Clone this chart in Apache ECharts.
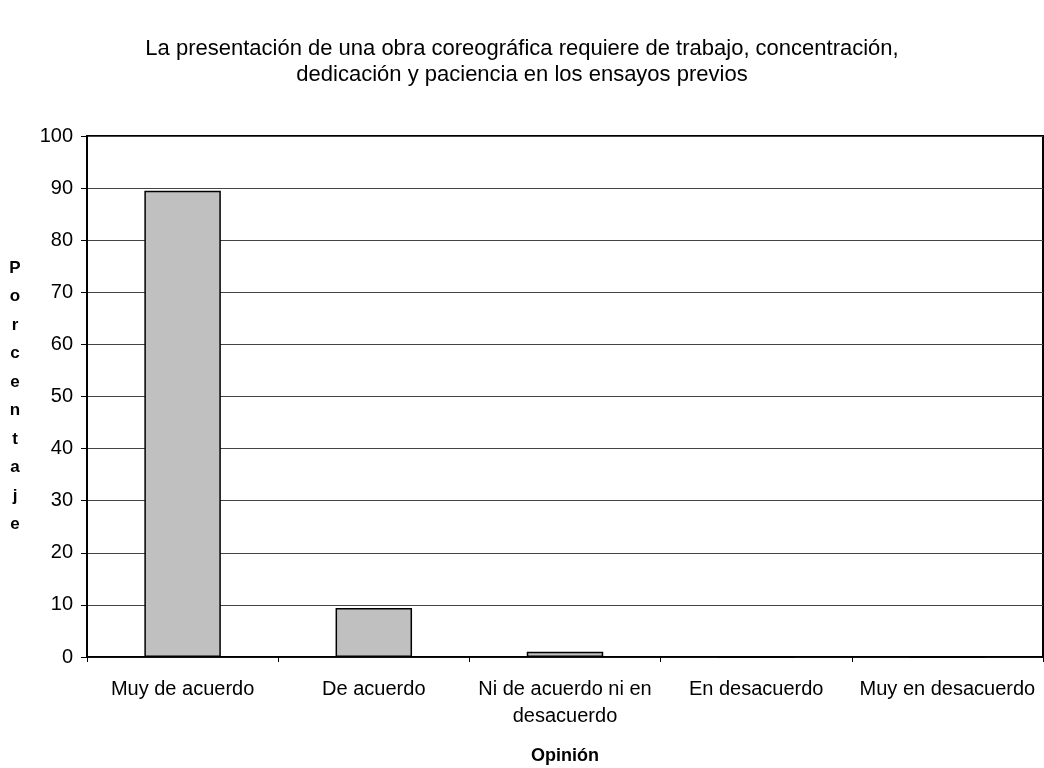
<!DOCTYPE html>
<html><head><meta charset="utf-8">
<script src="https://cdn.jsdelivr.net/npm/echarts@6/dist/echarts.min.js"></script>
<style>html,body{margin:0;padding:0;background:#fff;overflow:hidden}#c{width:1044px;height:768px}</style>
</head><body><div id="c"></div>
<script>
var titleText = 'La presentación de una obra coreográfica requiere de trabajo, concentración,\ndedicación y paciencia en los ensayos previos';
var categories = ['Muy de acuerdo', 'De acuerdo', 'Ni de acuerdo ni en\ndesacuerdo', 'En desacuerdo', 'Muy en desacuerdo'];
var values = [89.5, 9.4, 1.0, 0, 0];
var yTicks = {min: 0, max: 100, interval: 10};
var xName = 'Opinión';
var yName = 'Porcentaje';

var chart = echarts.init(document.getElementById('c'), null, {renderer: 'canvas'});
var font = '"Liberation Sans", Arial, sans-serif';
chart.setOption({
  animation: false,
  backgroundColor: '#fff',
  textStyle: {fontFamily: font},
  title: {
    text: titleText, left: 'center', top: 31,
    textStyle: {fontSize: 22, fontWeight: 'normal', color: '#000', lineHeight: 26, fontFamily: font}
  },
  grid: {left: 87, right: 1, top: 136, bottom: 111, show: true, borderColor: '#000', borderWidth: 2,
         containLabel: false, outerBoundsMode: 'none'},
  xAxis: {
    type: 'category', data: categories,
    name: xName, nameLocation: 'middle', nameGap: 90,
    nameTextStyle: {fontSize: 18, fontWeight: 'bold', color: '#000', fontFamily: font},
    axisLine: {lineStyle: {color: '#000', width: 1.5}},
    axisTick: {show: true, length: 5, lineStyle: {color: '#000'}},
    axisLabel: {interval: 0, fontSize: 20, color: '#000', margin: 19, lineHeight: 27, fontFamily: font}
  },
  yAxis: {
    type: 'value', min: yTicks.min, max: yTicks.max, interval: yTicks.interval,
    name: yName.split('').join('\n'), nameLocation: 'middle', nameGap: 72, nameRotate: 0,
    nameTextStyle: {fontSize: 17, fontWeight: 'bold', color: '#000', lineHeight: 28.5, align: 'center', fontFamily: font},
    axisLine: {show: true, lineStyle: {color: '#000', width: 2}},
    axisTick: {show: true, length: 6, lineStyle: {color: '#000'}},
    axisLabel: {fontSize: 20, color: '#000', margin: 14, fontFamily: font},
    splitLine: {show: true, lineStyle: {color: '#444', width: 1}}
  },
  series: [{
    type: 'bar', data: values, barWidth: '40%',
    itemStyle: {color: '#c0c0c0', borderColor: '#000', borderWidth: 1.5}
  }]
});
</script></body></html>
